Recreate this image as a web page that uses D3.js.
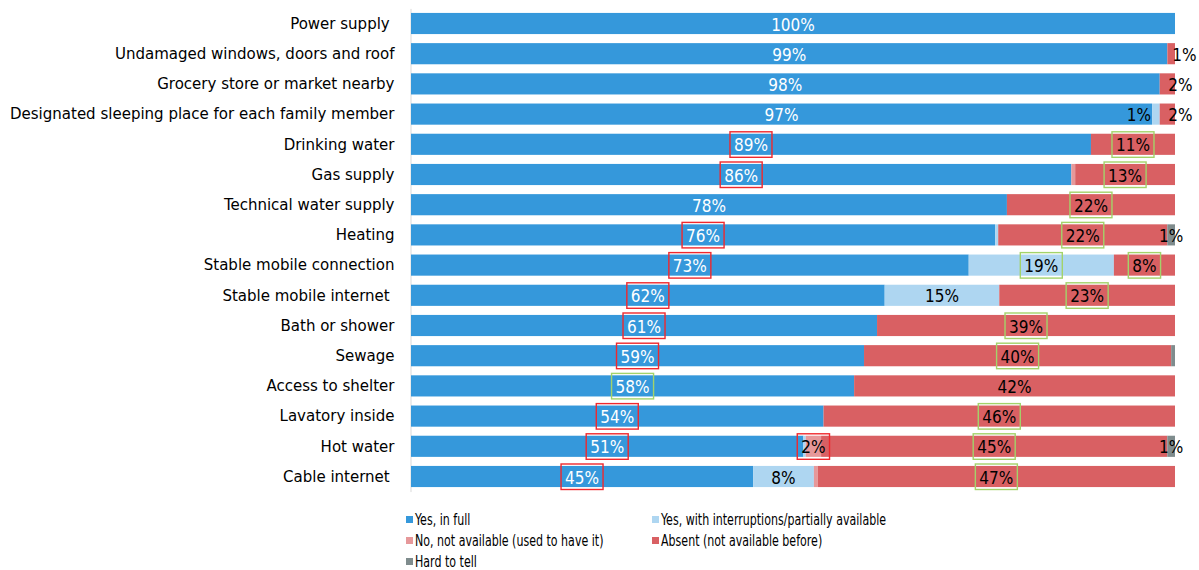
<!DOCTYPE html>
<html>
<head>
<meta charset="utf-8">
<script src="https://cdn.jsdelivr.net/npm/d3@7"></script>
<style>
  html, body { margin: 0; padding: 0; background: #fff; }
  svg { display: block; }
  svg text { font-family: "DejaVu Sans Condensed", "DejaVu Sans", sans-serif; font-stretch: condensed; }
  .tick text { white-space: pre; }
</style>
</head>
<body>
<svg id="chart" width="1199" height="570"></svg>
<script>
// Amenities available in the dwelling, share of respondents (%)
const categories = [
  "Power supply ",
  "Undamaged windows, doors and roof",
  "Grocery store or market nearby",
  "Designated sleeping place for each family member",
  "Drinking water",
  "Gas supply",
  "Technical water supply",
  "Heating",
  "Stable mobile connection",
  "Stable mobile internet ",
  "Bath or shower",
  "Sewage",
  "Access to shelter",
  "Lavatory inside",
  "Hot water",
  "Cable internet "
];

const seriesNames = [
  "Yes, in full",
  "Yes, with interruptions/partially available",
  "No, not available (used to have it)",
  "Absent (not available before)",
  "Hard to tell"
];

const yesFull     = [100, 99, 98, 97, 89, 86,  78, 76,   73, 62, 61, 59,  58, 54, 51,  45];
const yesPartial  = [  0,  0,  0,  1,  0,  0,   0, 0.4,  19, 15,  0,  0,   0,  0, 0.3,  8];
const noUsedTo    = [  0,  0,  0,  0,  0, 0.5,  0, 0,     0,  0,  0,  0,   0,  0, 2,  0.5];
const absent      = [  0,  1,  2,  2, 11, 13,  22, 22,    8, 23, 39, 40,  42, 46, 45,  47];
const hardToTell  = [  0,  0,  0,  0,  0,  0,   0, 1,     0,  0,  0, 0.5,  0,  0, 1,    0];

// Highlighted labels: [category index, series index]
const redBoxes   = [[4,0],[5,0],[7,0],[8,0],[9,0],[10,0],[11,0],[13,0],[14,0],[15,0],[14,2]];
const greenBoxes = [[4,3],[5,3],[6,3],[7,3],[8,1],[8,3],[9,3],[10,3],[11,3],[12,0],[13,3],[14,3],[15,3]];

const colors = ["#3598db", "#aed6f1", "#e6989a", "#d96063", "#7f8c8d"];

const seriesValues = [yesFull, yesPartial, noUsedTo, absent, hardToTell];
const keys = d3.range(seriesNames.length);
const rows = categories.map((c, i) => {
  const r = { category: c, index: i };
  keys.forEach(k => { r[k] = seriesValues[k][i]; });
  return r;
});

const stacked = d3.stack().keys(keys).offset(d3.stackOffsetExpand)(rows);

const svg = d3.select("#chart");
const x = d3.scaleLinear().domain([0, 1]).range([411, 1175]);
const y = d3.scaleBand().domain(d3.range(categories.length))
  .range([8.4, 491.6]).paddingInner(0.3).paddingOuter(0.15);

// Category axis
const yAxis = svg.append("g")
  .attr("transform", "translate(410.5,0)")
  .call(d3.axisLeft(y).tickSize(0).tickPadding(16).tickFormat(i => categories[i]))
  .attr("font-family", null)
  .attr("font-size", null);
yAxis.select(".domain").attr("stroke", "#d9d9d9").attr("stroke-width", 1);
yAxis.selectAll(".tick text")
  .attr("font-size", 16.7)
  .attr("fill", "#000");

// Stacked bars
const layer = svg.append("g").selectAll("g").data(stacked).join("g")
  .attr("fill", d => colors[d.key]);
layer.selectAll("rect").data(d => d).join("rect")
  .attr("x", d => x(d[0]))
  .attr("width", d => Math.max(0, x(d[1]) - x(d[0])))
  .attr("y", d => y(d.data.index))
  .attr("height", y.bandwidth());

// Value labels
const labels = [];
stacked.forEach(s => {
  s.forEach(d => {
    const v = d.data[s.key];
    if (v < 1) return;
    const x0 = x(d[0]), x1 = x(d[1]), mid = (x0 + x1) / 2;
    let px = mid, anchor = "middle";
    if (s.key === 3 && v < 3) { px = mid + 1; anchor = "start"; }
    if (s.key === 1 && v <= 1) { px = x0 - 1; anchor = "end"; }
    labels.push({ key: s.key, idx: d.data.index, v, px, anchor,
                  cy: y(d.data.index) + y.bandwidth() / 2 });
  });
});

const labelG = svg.append("g");
const texts = labelG.selectAll("text").data(labels).join("text")
  .attr("x", d => d.px)
  .attr("y", d => d.cy + 1)
  .attr("text-anchor", d => d.anchor)
  .attr("dominant-baseline", "central")
  .attr("font-size", 17)
  .attr("fill", d => d.key === 0 ? "#fff" : "#000")
  .text(d => Math.round(d.v) + "%");

// Highlight boxes around selected labels
const boxG = svg.append("g");
function drawBoxes(list, color) {
  list.forEach(([ci, si]) => {
    const node = texts.filter(d => d.idx === ci && d.key === si).node();
    if (!node) return;
    const b = node.getBBox();
    const cy = y(ci) + y.bandwidth() / 2;
    boxG.append("rect")
      .attr("x", b.x - 4)
      .attr("y", cy - 12.5)
      .attr("width", b.width + 8)
      .attr("height", 25.5)
      .attr("fill", "none")
      .attr("stroke", color)
      .attr("stroke-width", 1.4);
  });
}
drawBoxes(redBoxes, "#f0282d");
drawBoxes(greenBoxes, "#a3d36a");

// Legend
const legendPos = [[406, 520], [652, 520], [406, 541], [652, 541], [406, 562]];
const legend = svg.append("g").selectAll("g").data(keys).join("g")
  .attr("transform", k => `translate(${legendPos[k][0]},${legendPos[k][1]})`);
legend.append("rect")
  .attr("x", 0).attr("y", -4).attr("width", 7).attr("height", 7)
  .attr("fill", k => colors[k]);
legend.append("text")
  .attr("transform", "translate(9,0) scale(0.82,1)")
  .attr("dominant-baseline", "central")
  .attr("font-size", 15)
  .attr("fill", "#000")
  .text(k => seriesNames[k]);
</script>
</body>
</html>
